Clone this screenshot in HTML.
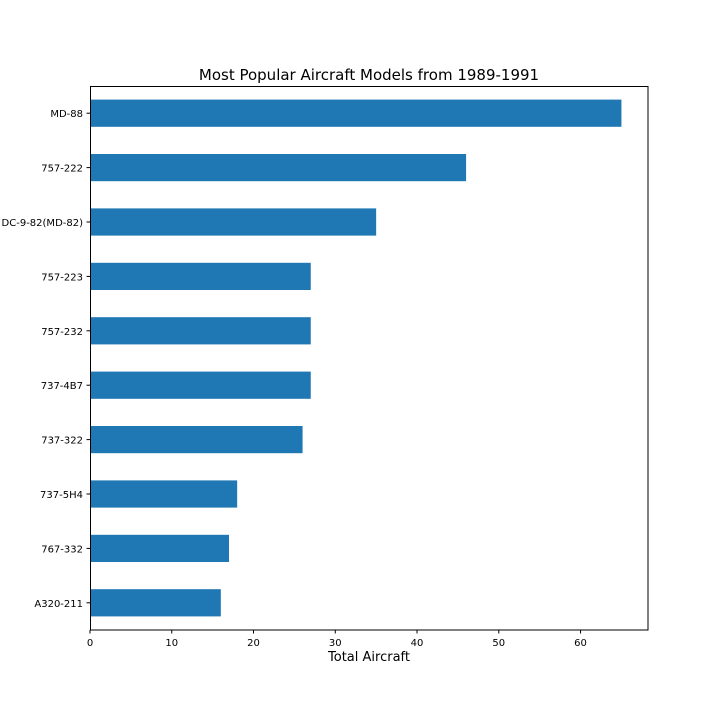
<!DOCTYPE html>
<html><head><meta charset="utf-8"><style>
html,body{margin:0;padding:0;background:#fff;}
svg{display:block;font-family:"DejaVu Sans","Liberation Sans",sans-serif;}
</style></head><body>
<svg id="chart" width="720" height="720" viewBox="0 0 720 720">
<rect x="0" y="0" width="720" height="720" fill="#fff"/>
<text x="369" y="80" text-anchor="middle" font-size="15" fill="#000">Most Popular Aircraft Models from 1989-1991</text>
<g id="bars"></g>
<g id="yticks"></g>
<g id="xticks"></g>
<rect x="90.5" y="86.5" width="557.5" height="543.5" fill="none" stroke="#000" stroke-width="1"/>
<text x="369" y="661" text-anchor="middle" font-size="13" fill="#000">Total Aircraft</text>
</svg>
<script>
const categories = ["MD-88","757-222","DC-9-82(MD-82)","757-223","757-232","737-4B7","737-322","737-5H4","767-332","A320-211"];
const values = [65,46,35,27,27,27,26,18,17,16];
const xTicks = [0,10,20,30,40,50,60];

const NS="http://www.w3.org/2000/svg";
const plotLeft=90, plotRight=648, plotTop=86, plotBottom=630;
const xMax=Math.max(...values)*1.05;
const xs=v=>plotLeft+(v/xMax)*(plotRight-plotLeft);
const band=(plotBottom-plotTop)/categories.length;
const yc=i=>plotTop+band*(i+0.5);
function mk(tag,attrs,parent){const e=document.createElementNS(NS,tag);for(const k in attrs)e.setAttribute(k,attrs[k]);parent.appendChild(e);return e;}
const gb=document.getElementById('bars'),gy=document.getElementById('yticks'),gx=document.getElementById('xticks');
categories.forEach((c,i)=>{
  const r=mk('rect',{x:xs(0),y:yc(i)-band*0.25,width:xs(values[i])-xs(0),height:band*0.5,fill:'#1f77b4'},gb);
  
  
  const t=mk('line',{x1:plotLeft-3.5,x2:plotLeft,y1:yc(i),y2:yc(i),stroke:'#000'},gy);
  
  
  const l=mk('text',{x:plotLeft-7,y:yc(i)+4,'text-anchor':'end','font-size':'10',fill:'#000'},gy);
  l.textContent=c;
  
  
});
xTicks.forEach(v=>{
  const t=mk('line',{x1:xs(v),x2:xs(v),y1:plotBottom,y2:plotBottom+3.5,stroke:'#000'},gx);
  
  
  const l=mk('text',{x:xs(v),y:plotBottom+16,'text-anchor':'middle','font-size':'10',fill:'#000'},gx);
  l.textContent=v;
  
  
});
</script>
</body></html>
